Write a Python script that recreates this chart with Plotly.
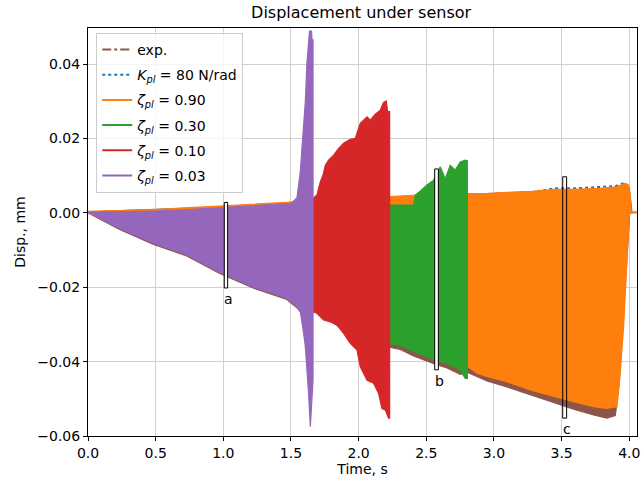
import plotly.graph_objects as go

# ---------------- data ----------------
# exp. (brown) envelope
exp_t_up = [0.0, 1.0, 2.0, 2.81, 3.5, 4.0, 4.02]
exp_up = [0.0003, 0.0017, 0.0030, 0.0050, 0.0060, 0.0068, 0.0]
exp_t_lo = [0.0, 0.23, 0.48, 0.73, 0.97, 1.22, 1.465, 1.544, 1.60, 1.663, 2.0, 2.234, 2.308,
            2.406, 2.505, 2.566, 2.653, 2.751, 2.81, 2.948, 3.096, 3.268, 3.44, 3.588,
            3.736, 3.835, 3.897, 3.925, 3.950, 3.980, 4.002, 4.02]
exp_lo = [0.0, -0.0044, -0.0084, -0.0116, -0.0162, -0.0202, -0.0232, -0.0255, -0.028, -0.026,
          -0.034, -0.0362, -0.0367, -0.0385, -0.0399, -0.0407, -0.0417, -0.0434, -0.0430,
          -0.0452, -0.0468, -0.0488, -0.0510, -0.0528, -0.0543, -0.0552, -0.0545, -0.0460,
          -0.0320, -0.0140, 0.0, 0.0]

# K_pl = 80 N/rad (blue, dotted) envelope
kpl_t_up = [0.0, 1.0, 2.0, 2.81, 3.1, 3.25, 3.35, 3.45, 3.6, 3.75, 3.9, 3.97, 3.99, 4.0]
kpl_up = [0.0001, 0.0013, 0.0027, 0.0047, 0.0050, 0.0054, 0.0060, 0.0066, 0.0066, 0.0069,
          0.0072, 0.0081, 0.0068, 0.0]
kpl_t_lo = [0.0, 1.0, 1.66, 2.81, 3.5, 3.9, 4.0]
kpl_lo = [0.0, -0.0145, -0.024, -0.040, -0.049, -0.051, 0.0]

# zeta_pl = 0.90 (orange)
z090_t_up = [0.0, 0.25, 0.5, 0.75, 1.0, 1.25, 1.5, 1.66, 2.23, 2.40, 2.81, 2.948, 3.096, 3.268,
             3.44, 3.588, 3.786, 3.909, 3.970, 3.995, 4.007, 4.015, 4.057]
z090_up = [0.0004, 0.0006, 0.0009, 0.0014, 0.0019, 0.0024, 0.0029, 0.0033, 0.0044, 0.0047,
           0.0052, 0.0052, 0.0055, 0.0057, 0.0063, 0.0063, 0.0066, 0.0070, 0.0079, 0.0075,
           0.0043, 0.0003, 0.0003]
z090_t_lo = [0.0, 0.5, 1.0, 1.5, 1.66, 2.23, 2.81, 2.875, 2.948, 3.096, 3.268, 3.44, 3.588,
             3.736, 3.835, 3.909, 3.931, 3.958, 3.983, 4.002, 4.015, 4.057]
z090_lo = [0.0, -0.0075, -0.0155, -0.0220, -0.0250, -0.0340, -0.0414, -0.0431, -0.0440,
           -0.0454, -0.0476, -0.0494, -0.0508, -0.0521, -0.0526, -0.0521, -0.0440, -0.0307,
           -0.0127, 0.0008, 0.0, 0.0]

# zeta_pl = 0.30 (green)
z030_t_up = [2.229, 2.406, 2.419, 2.455, 2.505, 2.554, 2.579, 2.603, 2.640, 2.677, 2.714,
             2.751, 2.788, 2.803]
z030_up = [0.0021, 0.0021, 0.0048, 0.0058, 0.0075, 0.0088, 0.0106, 0.0124, 0.0092, 0.0128,
           0.0115, 0.0137, 0.0142, 0.0140]
z030_t_lo = [2.229, 2.308, 2.406, 2.505, 2.566, 2.653, 2.751, 2.788, 2.803]
z030_lo = [-0.0351, -0.0355, -0.0373, -0.0387, -0.0396, -0.0405, -0.0423, -0.0445, -0.0445]

# zeta_pl = 0.10 (red)
z010_t_up = [1.663, 1.692, 1.717, 1.737, 1.754, 1.778, 1.815, 1.852, 1.889, 1.938, 1.975,
             1.992, 2.012, 2.062, 2.086, 2.123, 2.160, 2.184, 2.204, 2.214, 2.229]
z010_up = [0.0039, 0.0048, 0.0084, 0.0102, 0.0128, 0.0142, 0.0155, 0.0173, 0.0187, 0.0198,
           0.0200, 0.0218, 0.0241, 0.0258, 0.0249, 0.0265, 0.0276, 0.0297, 0.0301, 0.0272,
           0.0272]
z010_t_lo = [1.663, 1.692, 1.741, 1.790, 1.840, 1.889, 1.938, 1.988, 2.012, 2.062, 2.110,
             2.147, 2.172, 2.197, 2.221, 2.229]
z010_lo = [-0.0266, -0.0270, -0.0288, -0.0293, -0.0302, -0.0324, -0.0351, -0.0369, -0.0414,
           -0.0450, -0.0458, -0.0485, -0.0526, -0.0530, -0.0552, -0.0552]

# zeta_pl = 0.03 (purple)
z003_t_up = [0.0, 0.25, 0.5, 0.75, 1.0, 1.25, 1.5, 1.544, 1.556, 1.569, 1.581, 1.593, 1.606,
             1.618, 1.630, 1.637, 1.652, 1.655, 1.663]
z003_up = [0.0002, 0.0003, 0.0005, 0.0009, 0.0014, 0.0019, 0.0025, 0.0040, 0.0083, 0.0110,
           0.0174, 0.0245, 0.0299, 0.0403, 0.0470, 0.0489, 0.0489, 0.0465, 0.0465]
z003_t_lo = [0.0, 0.23, 0.48, 0.73, 0.97, 1.22, 1.465, 1.544, 1.569, 1.581, 1.593, 1.606,
             1.618, 1.630, 1.643, 1.655, 1.663]
z003_lo = [0.0, -0.0041, -0.0081, -0.0113, -0.0159, -0.0199, -0.0229, -0.0252, -0.0266,
           -0.0296, -0.0323, -0.0360, -0.0414, -0.0485, -0.0575, -0.0500, -0.0450]

series_names = ["exp.",
                "<i>K</i><sub><i>pl</i></sub> = 80 N/rad",
                "<i>ζ</i><sub><i>pl</i></sub> = 0.90",
                "<i>ζ</i><sub><i>pl</i></sub> = 0.30",
                "<i>ζ</i><sub><i>pl</i></sub> = 0.10",
                "<i>ζ</i><sub><i>pl</i></sub> = 0.03"]
series_colors = ["#8c564b", "#1f77b4", "#ff7f0e", "#2ca02c", "#d62728", "#9467bd"]
series_dash = ["dashdot", "dot", "solid", "solid", "solid", "solid"]

# marked windows a, b, c
box_labels = ["a", "b", "c"]
box_t0 = [1.007, 2.562, 3.508]
box_t1 = [1.032, 2.589, 3.537]
box_ylo = [-0.0202, -0.0422, -0.0552]
box_yhi = [0.0028, 0.0118, 0.0097]
box_fill = ["white", "white", "rgba(0,0,0,0)"]

x_ticks = [0.0, 0.5, 1.0, 1.5, 2.0, 2.5, 3.0, 3.5, 4.0]
x_ticktext = ["0.0", "0.5", "1.0", "1.5", "2.0", "2.5", "3.0", "3.5", "4.0"]
y_ticks = [-0.06, -0.04, -0.02, 0.0, 0.02, 0.04]
y_ticktext = ["\u22120.06", "\u22120.04", "\u22120.02", "0.00", "0.02", "0.04"]
x_range = [0.0, 4.057]
y_range = [-0.06, 0.0497]

FONT = "DejaVu Sans"

fig = go.Figure()


def band(t_up, up, t_lo, lo, color, filled=True, dash="solid", width=1.2):
    xs = list(t_up) + list(t_lo)[::-1] + [t_up[0]]
    ys = list(up) + list(lo)[::-1] + [up[0]]
    fig.add_trace(go.Scatter(
        x=xs, y=ys, mode="lines",
        line=dict(color=color, width=width, dash=dash),
        fill="toself" if filled else None,
        fillcolor=color if filled else None,
        showlegend=False, hoverinfo="skip"))


band(exp_t_up, exp_up, exp_t_lo, exp_lo, series_colors[0])
band(kpl_t_up, kpl_up, kpl_t_lo, kpl_lo, series_colors[1], filled=False, dash="dot", width=2)
band(z090_t_up, z090_up, z090_t_lo, z090_lo, series_colors[2])
band(z030_t_up, z030_up, z030_t_lo, z030_lo, series_colors[3])
band(z010_t_up, z010_up, z010_t_lo, z010_lo, series_colors[4])
band(z003_t_up, z003_up, z003_t_lo, z003_lo, series_colors[5])

# legend entries
for i, (name, col, dsh) in enumerate(zip(series_names, series_colors, series_dash)):
    fig.add_trace(go.Scatter(
        x=[None], y=[None], mode="lines", name=name,
        line=dict(color=col, width=2, dash=dsh),
        legendgroup=f"g{i}", showlegend=True))

# boxes
for lab, t0, t1, ylo, yhi, fc in zip(box_labels, box_t0, box_t1, box_ylo, box_yhi, box_fill):
    fig.add_shape(type="rect", x0=t0, x1=t1, y0=ylo, y1=yhi, xref="x", yref="y",
                  line=dict(color="black", width=1), fillcolor=fc, layer="above")
    fig.add_annotation(x=t0, y=ylo, xref="x", yref="y", text=lab, showarrow=False,
                       xanchor="left", yanchor="top", yshift=-1, xshift=-2,
                       font=dict(family=FONT, size=14, color="black"))

axis_common = dict(
    showline=True, linecolor="black", linewidth=1, mirror=True,
    ticks="outside", ticklen=4, tickwidth=1, tickcolor="black",
    showgrid=True, gridcolor="#d0d0d0", gridwidth=1, zeroline=False,
    automargin=False,
    tickfont=dict(family=FONT, size=14, color="black"),
)

fig.update_layout(
    width=642, height=488,
    margin=dict(l=88, r=5, t=28, b=52),
    paper_bgcolor="white", plot_bgcolor="white",
    title=dict(text="Displacement under sensor", x=0.5625, xanchor="center",
               y=0.987, yanchor="top",
               font=dict(family=FONT, size=16, color="black")),
    xaxis=dict(range=x_range, tickvals=x_ticks, ticktext=x_ticktext,
               title=dict(text="Time, s", font=dict(family=FONT, size=14, color="black"),
                          standoff=4),
               **axis_common),
    yaxis=dict(range=y_range, tickvals=y_ticks, ticktext=y_ticktext,
               title=dict(text="Disp., mm", font=dict(family=FONT, size=14, color="black"),
                          standoff=8),
               **axis_common),
    legend=dict(x=0.015, y=0.988, xanchor="left", yanchor="top",
                bgcolor="rgba(255,255,255,0.8)", bordercolor="#cccccc", borderwidth=1,
                font=dict(family=FONT, size=14, color="black"),
                traceorder="grouped", tracegroupgap=4, itemwidth=30),
    showlegend=True,
)

fig.write_html("out.html", config={"responsive": False, "displayModeBar": False},
               post_script="document.body.style.margin='0';"
                           "document.body.style.overflow='hidden';")
